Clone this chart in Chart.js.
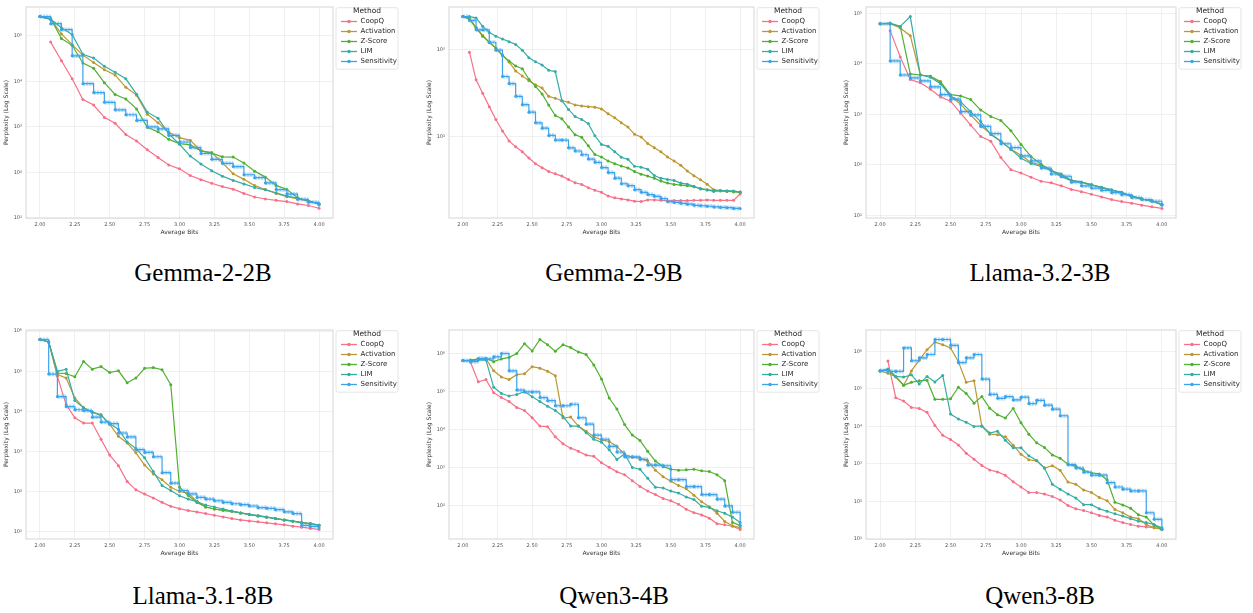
<!DOCTYPE html>
<html>
<head>
<meta charset="utf-8">
<script src="https://cdn.jsdelivr.net/npm/chart.js@4.4.1/dist/chart.umd.min.js"></script>
<style>
  html, body { margin: 0; padding: 0; background: #fff; overflow: hidden; }
  body { width: 1253px; height: 613px; position: relative; }
  canvas { position: absolute; }
  .caption { position: absolute; width: 300px; text-align: center; font-family: "Liberation Serif", "DejaVu Serif", serif;
             font-size: 25px; line-height: 26px; color: #000; }
</style>
</head>
<body>
<script>
// ---- data ----
const models = ['Gemma-2-2B', 'Gemma-2-9B', 'Llama-3.2-3B', 'Llama-3.1-8B', 'Qwen3-4B', 'Qwen3-8B'];
const layers = [26, 42, 28, 32, 36, 36];            // average bits run 2 + 2k/layers
const methods = ['CoopQ', 'Activation', 'Z-Score', 'LIM', 'Sensitivity'];
const xTicks = [2.00, 2.25, 2.50, 2.75, 3.00, 3.25, 3.50, 3.75, 4.00];

const gemma2bCoopQ = [null, 7.3e4, 2.84e4, 1.14e4, 4.0e3, 3.03e3, 1.62e3, 1.2e3, 684, 491, 314, 214, 146, 120, 86, 69.5, 58, 49, 43, 34.7, 28.9, 26.1, 24.4, 22.9, 20.4, 18.8, 16.4];
const gemma2bActivation = [2.65e5, 2.3e5, 1.1e5, 6.4e4, 3.77e4, 2.6e4, 1.8e4, 1.39e4, 7.4e3, 4.99e3, 1.91e3, 1.24e3, 767, 580, 507, 298, 275, 162, 93.5, 70.6, 51.5, 42.2, 34.7, 29.4, 26.1, 23.7, 20.4];
const gemma2bZScore = [2.65e5, 2.4e5, 8.7e4, 6.2e4, 2.53e4, 1.94e4, 9.35e3, 5.15e3, 4.09e3, 2.49e3, 984, 780, 533, 430, 402, 298, 266, 221, 218, 162, 107, 79, 52, 42.2, 27.9, 23.7, 20.4];
const gemma2bLIM = [2.65e5, 2.3e5, 1.5e5, 1.07e5, 3.95e4, 3.25e4, 2.14e4, 1.59e4, 1.14e4, 5.24e3, 2.11e3, 1.56e3, 706, 416, 229, 154, 109, 83, 67, 56, 46.7, 41.6, 35.8, 30.3, 27.5, 23.3, 20.4];
const gemma2bSensitivity = [2.65e5, 1.85e5, 1.37e5, 3.64e4, 8.9e3, 5.69e3, 3.47e3, 2.37e3, 1.85e3, 1.39e3, 1.0e3, 906, 650, 467, 352, 261, 194, 159, 135, 89, 76.8, 58.9, 42.2, 33.5, 25.7, 22.1, 19.4];

const gemma9bCoopQ = [null, 933, 450, 315, 222, 158, 117, 90, 77, 67.7, 57.3, 49.4, 44.5, 40.2, 37.8, 35.6, 32.6, 29.9, 28.6, 26.2, 24.5, 23.2, 21.1, 20.1, 19.5, 19.0, 18.4, 18.2, 19.0, 19.0, 18.8, 18.5, 18.7, 18.7, 18.7, 18.8, 18.8, 19.0, 18.8, 18.8, 18.8, 18.8, 22.2];
const gemma9bActivation = [2.38e3, 2.28e3, 1.79e3, 1.45e3, 1.21e3, 1.04e3, 863, 719, 569, 499, 438, 395, 362, 291, 277, 260, 249, 232, 226, 222, 219, 209, 184, 166, 145, 130, 107, 100, 84, 75, 67.7, 58.9, 53, 47.3, 40.8, 35.9, 32.3, 28.8, 24.9, 24.3, 23.8, 23.6, 23.4];
const gemma9bZScore = [2.38e3, 2.22e3, 1.76e3, 1.42e3, 1.21e3, 1.03e3, 855, 738, 647, 604, 457, 378, 310, 232, 176, 161, 130, 106, 99, 79, 63, 58.9, 53.1, 49.4, 46.5, 44.2, 40.2, 37.5, 35.6, 33.7, 31.2, 29.6, 28.6, 28.1, 27.7, 26.9, 25.6, 24.9, 24.3, 24.1, 24.1, 23.6, 23.2];
const gemma9bLIM = [2.38e3, 2.38e3, 2.3e3, 1.84e3, 1.57e3, 1.42e3, 1.32e3, 1.23e3, 1.14e3, 983, 805, 725, 665, 579, 559, 260, 206, 171, 158, 142, 103, 82, 78, 67.7, 58.4, 55.4, 46.1, 45, 42.7, 36.2, 33.7, 32.6, 31.8, 29.6, 28.8, 27.2, 25.4, 24.7, 23.8, 24.3, 24.1, 24.1, 23.4];
const gemma9bSensitivity = [2.38e3, 2.15e3, 1.68e3, 1.68e3, 1.21e3, 983, 491, 408, 291, 234, 192, 145, 126, 104, 92, 92, 75, 69, 62.5, 55.8, 51.2, 44.6, 39.1, 33.7, 29.1, 27.7, 24.9, 23.2, 21.9, 20.9, 19.7, 18.2, 17.8, 17.4, 17.0, 16.5, 16.3, 16.1, 15.8, 15.6, 15.5, 15.2, 15.2];

const llama3bCoopQ = [null, 4.53e4, 1.37e4, 4.87e3, 4.2e3, 3.12e3, 2.21e3, 1.82e3, 1.05e3, 611, 362, 294, 139, 80, 68.9, 56.7, 47.3, 44, 38.4, 32.6, 29.4, 26.1, 23.1, 20.5, 18.7, 17.4, 15.9, 14.7, 13.7];
const llama3bActivation = [6.2e4, 6.2e4, 5.1e4, 3.6e4, 6.0e3, 5.67e3, 4.46e3, 2.31e3, 1.57e3, 971, 601, 408, 294, 202, 154, 111, 100, 78.7, 61, 48.8, 45.3, 40.2, 35.1, 31.2, 28.5, 23.1, 20.8, 19.6, 16.1];
const llama3bZScore = [6.2e4, 6.2e4, 5.5e4, 6.3e3, 6.0e3, 5.67e3, 4.3e3, 2.45e3, 2.31e3, 1.96e3, 1.21e3, 901, 753, 473, 253, 145, 103, 76.4, 65.8, 48.8, 45.3, 40.2, 35.5, 31.5, 28.2, 24, 21, 19.3, 16.3];
const llama3bLIM = [6.2e4, 6.4e4, 5.5e4, 8.6e4, 6.0e3, 5.42e3, 4.02e3, 2.31e3, 1.77e3, 1.13e3, 719, 396, 294, 202, 135, 106, 92.9, 76.4, 58.3, 48.8, 45.3, 40.2, 36.1, 32, 28.1, 24.2, 21.1, 19, 16.4];
const llama3bSensitivity = [6.2e4, 1.14e4, 6.0e3, 5.26e3, 4.6e3, 3.5e3, 2.45e3, 1.99e3, 1.13e3, 971, 575, 414, 261, 218, 150, 120, 86, 65.8, 59.3, 45.3, 38.4, 34.6, 31.2, 28.1, 25.6, 22.4, 20.5, 19, 15.9];

const llama8bCoopQ = [null, 5.4e5, 7.5e4, 1.48e4, 6.95e3, 5.13e3, 5.13e3, 2.02e3, 815, 444, 179, 111, 86.9, 69.2, 54.1, 43.1, 37.7, 33.7, 31.2, 28.4, 25.8, 23.5, 21.3, 19.8, 18.7, 17.7, 16.7, 15.8, 14.9, 13.8, 13, 12.1, 11.4];
const llama8bActivation = [6.2e5, 5.4e5, 8.3e4, 6.8e4, 2.17e4, 1.23e4, 9.6e3, 8.4e3, 4.75e3, 2.4e3, 1.64e3, 931, 461, 277, 197, 129, 101, 92, 57.3, 41.5, 37, 34.3, 32.4, 29.5, 26.8, 24.8, 23, 21.3, 19.8, 18.4, 17, 16.1, 14.6];
const llama8bZScore = [6.2e5, 5.4e5, 9.0e4, 8.8e4, 7.3e4, 1.75e5, 1.13e5, 1.31e5, 9.3e4, 1.03e5, 5.19e4, 6.76e4, 1.19e5, 1.24e5, 1.09e5, 4.64e4, 130, 80, 54, 41.5, 37, 34.3, 32.4, 29.5, 26.8, 24.8, 23, 21.3, 19.8, 18.4, 17, 16.1, 14.6];
const llama8bLIM = [6.2e5, 5.4e5, 1.0e5, 1.13e5, 1.86e4, 1.23e4, 9.6e3, 7.95e3, 4.94e3, 3.58e3, 1.74e3, 1.19e3, 700, 316, 142, 107, 79, 65.3, 56.2, 46.5, 41.5, 37, 33, 29.5, 27.4, 25.4, 23.5, 21.3, 19.8, 18.4, 17, 15.8, 14.6];
const llama8bSensitivity = [6.2e5, 8.5e4, 2.34e4, 1.32e4, 1.1e4, 1.05e4, 7.2e3, 5.43e3, 4.94e3, 2.9e3, 2.31e3, 1.12e3, 949, 742, 298, 163, 107, 88.5, 71.9, 65.4, 59.4, 54, 50, 47.3, 43.9, 40, 38.5, 35.6, 31.5, 28.4, 14.5, 13.6, 12.6];

const qwen4bCoopQ = [null, 5.86e5, 1.79e5, 2.05e5, 9.3e4, 6.9e4, 5.46e4, 3.8e4, 3.14e4, 2.03e4, 1.22e4, 1.18e4, 6.4e3, 4.2e3, 3.2e3, 2.65e3, 2.1e3, 1.95e3, 1.32e3, 1.0e3, 760, 637, 446, 312, 237, 191, 151, 131, 107, 78.4, 64, 55.8, 45.8, 32.7, 30.7, 28, 23];
const qwen4bActivation = [6.5e5, 6.5e5, 7.0e5, 7.2e5, 3.5e5, 2.4e5, 2.05e5, 2.77e5, 2.93e5, 4.5e5, 4.1e5, 3.4e5, 2.6e5, 1.99e4, 2.11e4, 1.22e4, 9.0e3, 6.4e3, 5.3e3, 4.8e3, 3.6e3, 2.17e3, 1.85e3, 1.75e3, 1.46e3, 841, 566, 429, 332, 272, 183, 123, 91.7, 61.7, 37.6, 29, 25.4];
const qwen4bZScore = [6.5e5, 6.7e5, 7.2e5, 7.4e5, 6.1e5, 7.2e5, 7.9e5, 1.0e6, 1.81e6, 1.17e6, 2.34e6, 1.71e6, 1.15e6, 1.71e6, 1.43e6, 1.1e6, 9.4e5, 5.0e5, 2.14e5, 6.7e4, 3.46e4, 1.34e4, 7.1e3, 5.1e3, 2.65e3, 1.46e3, 1.04e3, 891, 841, 858, 891, 807, 777, 637, 446, 35.4, 29.1];
const qwen4bLIM = [6.5e5, 6.5e5, 6.8e5, 6.7e5, 1.3e5, 8.8e4, 7.6e4, 8.3e4, 9.9e4, 7.2e4, 5.46e4, 4.06e4, 3.14e4, 2.2e4, 1.22e4, 1.22e4, 8.2e3, 5.5e3, 4.6e3, 2.9e3, 1.62e3, 2.26e3, 985, 891, 513, 300, 285, 237, 210, 166, 141, 95, 88, 72, 61.7, 48.8, 35.4];
const qwen4bSensitivity = [6.5e5, 6.1e5, 7.4e5, 7.2e5, 8.2e5, 1.0e6, 3.5e5, 1.09e5, 9.7e4, 9.7e4, 6.9e4, 5.7e4, 4.2e4, 4.2e4, 4.6e4, 2.03e4, 1.37e4, 7.1e3, 5.5e3, 3.56e3, 2.54e3, 1.89e3, 1.89e3, 1.62e3, 1.15e3, 1.15e3, 1.1e3, 473, 473, 312, 312, 191, 191, 145, 96, 65.6, 29.1];

const qwen8bCoopQ = [null, 5.48e5, 5.8e4, 4.75e4, 3.18e4, 3.0e4, 2.36e4, 1.06e4, 5.8e3, 4.45e3, 3.18e3, 1.92e3, 1.33e3, 912, 689, 611, 500, 334, 243, 173, 173, 157, 136, 109, 78, 63.5, 57.4, 50, 42.5, 38.4, 31.5, 27.4, 24.3, 21.9, 21, 20.2, 18.3];
const qwen8bActivation = [3.0e5, 2.6e5, 2.1e5, 1.25e5, 3.0e5, 5.8e5, 1.1e6, 1.76e6, 1.5e6, 1.23e6, 5.3e5, 1.49e5, 1.64e5, 1.0e4, 6.2e3, 6.0e3, 5.3e3, 3.16e3, 1.8e3, 1.29e3, 1.21e3, 777, 897, 676, 329, 286, 203, 173, 128, 105, 61, 50, 38.4, 34.8, 24.3, 19.8, 18.3];
const qwen8bZScore = [3.0e5, 3.2e5, 2.1e5, 1.25e5, 1.49e5, 1.64e5, 1.7e5, 5.25e4, 5.25e4, 5.4e4, 1.1e5, 7.5e4, 4.13e4, 6.2e4, 3.05e4, 2.05e4, 1.67e4, 3.0e4, 1.24e4, 6.2e3, 3.65e3, 2.75e3, 1.74e3, 1.42e3, 988, 861, 676, 575, 542, 380, 94.6, 81, 66, 44.3, 38.4, 23.3, 18.3];
const qwen8bLIM = [3.0e5, 3.39e5, 2.14e5, 2.06e5, 2.36e5, 1.35e5, 2.14e5, 1.52e5, 2.27e5, 2.13e4, 1.57e4, 1.29e4, 9.96e3, 1.03e4, 6.65e3, 7.4e3, 4.27e3, 2.69e3, 2.69e3, 1.64e3, 1.23e3, 777, 286, 212, 157, 123, 82, 82, 63.5, 55, 47, 40.8, 34.8, 29.7, 27.4, 24.3, 19.8];
const qwen8bSensitivity = [3.08e5, 2.9e5, 2.9e5, 1.23e6, 5.6e5, 6.7e5, 8.2e5, 2.06e6, 2.06e6, 1.44e6, 4.98e5, 6.7e5, 8.2e5, 1.82e5, 7.1e4, 5.57e4, 6.2e4, 5.06e4, 6.0e4, 4.05e4, 4.93e4, 3.66e4, 2.87e4, 1.92e4, 953, 777, 600, 501, 501, 316, 243, 212, 191, 191, 50, 33.4, 18];

const panelSeries = [
  [gemma2bCoopQ, gemma2bActivation, gemma2bZScore, gemma2bLIM, gemma2bSensitivity],
  [gemma9bCoopQ, gemma9bActivation, gemma9bZScore, gemma9bLIM, gemma9bSensitivity],
  [llama3bCoopQ, llama3bActivation, llama3bZScore, llama3bLIM, llama3bSensitivity],
  [llama8bCoopQ, llama8bActivation, llama8bZScore, llama8bLIM, llama8bSensitivity],
  [qwen4bCoopQ, qwen4bActivation, qwen4bZScore, qwen4bLIM, qwen4bSensitivity],
  [qwen8bCoopQ, qwen8bActivation, qwen8bZScore, qwen8bLIM, qwen8bSensitivity]
];

// ---- look ----
const colors = ['#f77189', '#bb9832', '#50b131', '#36ada4', '#3ba3ec'];
const FONT = 'DejaVu Sans';
const plotLeft = [26, 449, 866];
const plotRight = [333, 754, 1176];
const plotTop = [4.3, 327];
const plotHeight = [214, 212];
const captionX = [203, 614, 1040];
const captionY = [260, 583];
const AXIS_W = 23, AXIS_H = 18, PAD_TOP = 4, LEGEND_W = 68;

const SUP = {'0':'\u2070','1':'\u00b9','2':'\u00b2','3':'\u00b3','4':'\u2074','5':'\u2075','6':'\u2076','7':'\u2077','8':'\u2078','9':'\u2079'};
function powLabel(v) {
  const e = Math.round(Math.log10(v));
  return '10' + String(e).split('').map(c => SUP[c]).join('');
}

function legendIcon(color) {
  const c = document.createElement('canvas');
  c.width = 21; c.height = 5;
  const g = c.getContext('2d');
  g.strokeStyle = color; g.lineWidth = 1.3;
  g.beginPath(); g.moveTo(5, 2.5); g.lineTo(21, 2.5); g.stroke();
  g.fillStyle = color;
  g.beginPath(); g.arc(13, 2.5, 1.7, 0, Math.PI * 2); g.fill();
  return c;
}
const icons = colors.map(legendIcon);

// frame round the plot and round the legend
const frames = {
  id: 'frames',
  beforeDraw(chart) {
    const a = chart.chartArea, g = chart.ctx;
    const x = a.right + 3, y = a.top + 0.7, w = 62, h = 61.5, r = 2;
    g.save();
    g.beginPath();
    g.moveTo(x + r, y); g.lineTo(x + w - r, y); g.quadraticCurveTo(x + w, y, x + w, y + r);
    g.lineTo(x + w, y + h - r); g.quadraticCurveTo(x + w, y + h, x + w - r, y + h);
    g.lineTo(x + r, y + h); g.quadraticCurveTo(x, y + h, x, y + h - r);
    g.lineTo(x, y + r); g.quadraticCurveTo(x, y, x + r, y);
    g.fillStyle = '#fff'; g.fill();
    g.strokeStyle = '#dedede'; g.lineWidth = 0.8; g.stroke();
    g.restore();
  },
  afterDatasetsDraw(chart) {
    const a = chart.chartArea, g = chart.ctx;
    g.save();
    g.strokeStyle = '#d6d6d6'; g.lineWidth = 1;
    g.strokeRect(a.left, a.top, a.right - a.left, a.bottom - a.top);
    g.restore();
  }
};

function buildPanel(p) {
  const col = p % 3, row = Math.floor(p / 3);
  const L = layers[p];
  const bits = [];
  for (let k = 0; k <= L; k++) bits.push(2 + 2 * k / L);
  const series = panelSeries[p];

  const all = series.flat().filter(v => v != null);
  let lo = Math.log10(Math.min(...all)), hi = Math.log10(Math.max(...all));
  const m = (hi - lo) * 0.05; lo -= m; hi += m;
  const decades = [];
  for (let e = Math.ceil(lo - 0.02); e <= Math.floor(hi + 0.02); e++) decades.push(e);
  lo = Math.min(lo, decades[0]); hi = Math.max(hi, decades[decades.length - 1]);

  const pts = arr => arr.map((y, k) => ({x: bits[k], y})).filter(q => q.y != null);
  const datasets = series.map((arr, i) => ({
    label: methods[i],
    data: pts(arr),
    borderColor: colors[i],
    backgroundColor: colors[i],
    borderWidth: 1.2,
    pointRadius: 1.5,
    pointBorderWidth: 0,
    stepped: i === 4,
    order: i === 4 ? 0 : 6 - i
  }));
  // light band under the flat parts of the Sensitivity staircase
  const sens = series[4], band = [];
  for (let k = 0; k < L; k++) {
    band.push({x: bits[k], y: sens[k]}, {x: bits[k + 1], y: sens[k]}, {x: bits[k + 1], y: null});
  }
  datasets.push({
    label: '', isBand: true, data: band,
    borderColor: 'rgba(59,163,236,0.42)', borderWidth: 4.2, borderDash: [2.3, 0.8],
    borderCapStyle: 'butt', pointRadius: 0, order: 1
  });

  const w = AXIS_W + (plotRight[col] - plotLeft[col]) + LEGEND_W;
  const h = PAD_TOP + plotHeight[row] + AXIS_H;
  const cv = document.createElement('canvas');
  cv.width = Math.round(w); cv.height = Math.round(h);
  cv.style.width = cv.width + 'px'; cv.style.height = cv.height + 'px';
  cv.style.left = (plotLeft[col] - AXIS_W) + 'px';
  cv.style.top = (plotTop[row] - PAD_TOP) + 'px';
  document.body.appendChild(cv);

  const cap = document.createElement('div');
  cap.className = 'caption';
  cap.textContent = models[p];
  cap.style.left = (captionX[col] - 150) + 'px';
  cap.style.top = captionY[row] + 'px';
  document.body.appendChild(cap);

  new Chart(cv.getContext('2d'), {
    type: 'line',
    data: {datasets},
    options: {
      responsive: false,
      animation: false,
      events: [],
      layout: {padding: {top: PAD_TOP, left: 0, right: 0, bottom: 0}},
      plugins: {
        tooltip: {enabled: false},
        legend: {
          position: 'right', align: 'start', maxWidth: LEGEND_W,
          title: {display: true, text: 'Method', color: '#262626',
                  font: {family: FONT, size: 7.5, lineHeight: 1}, padding: {top: 3.5, bottom: 0}},
          labels: {
            usePointStyle: true, pointStyleWidth: 21, padding: 3, color: '#262626',
            font: {family: FONT, size: 7},
            generateLabels: chart => chart.data.datasets
              .map((d, i) => ({ds: d, i}))
              .filter(o => !o.ds.isBand)
              .map(o => ({text: o.ds.label, pointStyle: icons[o.i], fillStyle: colors[o.i],
                          strokeStyle: colors[o.i], lineWidth: 0, hidden: false, datasetIndex: o.i, fontColor: '#262626'}))
          }
        }
      },
      scales: {
        x: {
          type: 'linear', min: 1.9, max: 4.1,
          afterBuildTicks: s => { s.ticks = xTicks.map(v => ({value: v})); },
          afterFit: s => { s.height = AXIS_H; },
          grid: {color: '#ececec', lineWidth: 0.8, drawTicks: false},
          border: {display: false},
          ticks: {padding: 3.5, color: '#555', maxRotation: 0, autoSkip: false,
                  font: {family: FONT, size: 5}, callback: v => Number(v).toFixed(2)},
          title: {display: true, text: 'Average Bits', color: '#333', padding: 0, font: {family: FONT, size: 6}}
        },
        y: {
          type: 'logarithmic', min: Math.pow(10, lo), max: Math.pow(10, hi),
          afterBuildTicks: s => { s.ticks = decades.map(e => ({value: Math.pow(10, e)})); },
          afterFit: s => { s.width = AXIS_W; },
          grid: {color: '#ececec', lineWidth: 0.8, drawTicks: false},
          border: {display: false},
          ticks: {padding: 4, color: '#555', autoSkip: false, font: {family: FONT, size: 5}, callback: v => powLabel(v)},
          title: {display: true, text: 'Perplexity (Log Scale)', color: '#333', padding: 0, font: {family: FONT, size: 6}}
        }
      }
    },
    plugins: [frames]
  });
}

for (let p = 0; p < 6; p++) buildPanel(p);
</script>
</body>
</html>
